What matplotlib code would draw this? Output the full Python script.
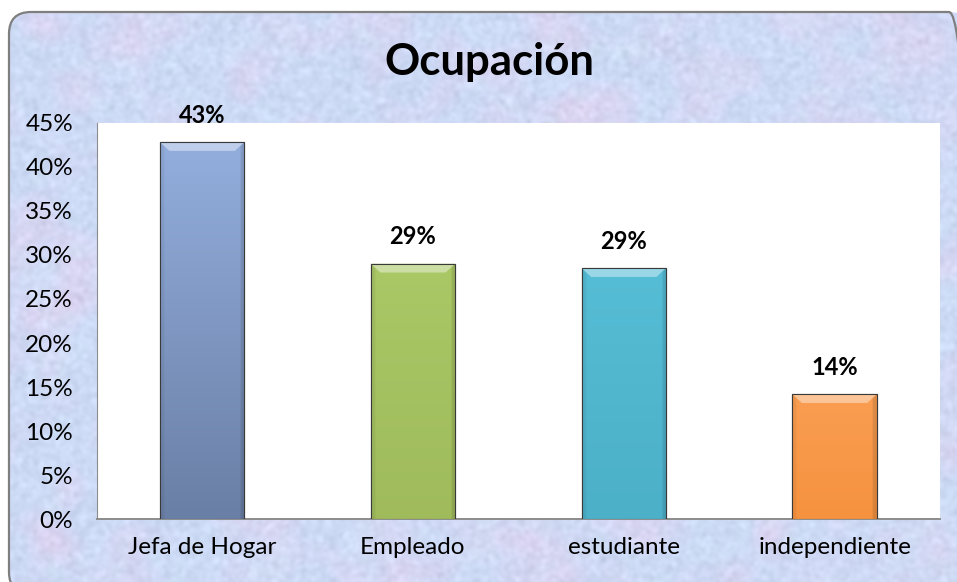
import numpy as np
import matplotlib
matplotlib.use("Agg")
import matplotlib.pyplot as plt
from matplotlib.patches import FancyBboxPatch, Polygon
from matplotlib.colors import to_rgb
from matplotlib.ticker import FuncFormatter

# data (percent)
categories = ["Jefa de Hogar", "Empleado", "estudiante", "independiente"]
values = [42.8, 29.0, 28.5, 14.2]
labels = ["43%", "29%", "29%", "14%"]

# bar colours (top, bottom)
top_colors = ["#93aedd", "#aac866", "#55bdd5", "#fa9e52"]
bottom_colors = ["#6a7fa5", "#9fbb5c", "#4bb0c8", "#f5923f"]

plt.rcParams['font.family'] = ['Lato', 'DejaVu Sans']

W, H = 957, 582
fig = plt.figure(figsize=(W / 100, H / 100), dpi=100)
fig.patch.set_facecolor("white")


def blur(a, s):
    ky = np.fft.fftfreq(a.shape[0])
    kx = np.fft.fftfreq(a.shape[1])
    g = np.exp(-2 * (np.pi * s) ** 2 * (ky[:, None] ** 2 + kx[None, :] ** 2))
    return np.real(np.fft.ifft2(np.fft.fft2(a) * g))


def norm(a):
    return (a - a.min()) / (a.max() - a.min())


# pastel mottled background (decoration only)
rng = np.random.default_rng(3)
th, tw = 582, 957
f1 = norm(blur(rng.normal(size=(th, tw)), 14))
f2 = norm(blur(rng.normal(size=(th, tw)), 6))
f3 = blur(rng.normal(size=(th, tw)), 2.0)
f3 = f3 / f3.std()
blue = np.array(to_rgb("#cbdbf6"))
pink = np.array(to_rgb("#dfd3f0"))
cyan = np.array(to_rgb("#cfe8f7"))
lav = np.array(to_rgb("#d5d3f2"))
w1 = np.clip((f1 - 0.5) * 2.0, 0, 1)[..., None]
w2 = np.clip((f2 - 0.5) * 2.0, 0, 1)[..., None]
tex = blue * (1 - w1) + pink * w1
tex = tex * (1 - 0.6 * w2) + cyan * 0.6 * w2
tex = tex * 0.85 + lav * 0.15
tex = np.clip(tex + f3[..., None] * 0.014, 0, 1)

bg = fig.add_axes([0, 0, 1, 1], zorder=0)
bg.set_xlim(0, W)
bg.set_ylim(0, H)
bg.axis("off")
frame = FancyBboxPatch((9, -12), 962, H - 12 + 12, boxstyle="round,pad=0,rounding_size=22",
                       facecolor="none", edgecolor="#7f7f7f", linewidth=1.6, zorder=2)
bg.add_patch(frame)
im = bg.imshow(tex, extent=(0, W, 0, H), origin="upper", interpolation="bilinear",
               aspect="auto", zorder=1)
im.set_clip_path(frame)

fig.text(489 / W, 1 - 62 / H, "Ocupación", ha="center", va="center",
         fontsize=31.5, fontweight="bold", color="black")

# plot area
ax = fig.add_axes([96.7 / W, 1 - 519.3 / H, (940 - 96.7) / W, (519.3 - 122.7) / H], zorder=1)
ax.set_facecolor("white")
x = np.arange(len(categories))
bars = ax.bar(x, values, width=0.40, color=top_colors, edgecolor="#3a3a3a",
              linewidth=0.8, zorder=3)

ax.set_xlim(-0.5, len(categories) - 0.5)
ax.set_ylim(0, 45)
ax.set_yticks(np.arange(0, 46, 5))
ax.yaxis.set_major_formatter(FuncFormatter(lambda v, p: f"{v:.0f}%"))
ax.set_xticks(x)
ax.set_xticklabels(categories)
ax.tick_params(axis="y", length=0, pad=17, labelsize=17.5)
ax.tick_params(axis="x", length=0, pad=13, labelsize=17.5)
for s in ["top", "right"]:
    ax.spines[s].set_visible(False)
ax.spines["left"].set_color("#8c8c8c")
ax.spines["bottom"].set_color("#8c8c8c")
ax.spines["bottom"].set_linewidth(1.4)

# gradient fill + bevel on each bar
for b, c_top, c_bot, lab in zip(bars, top_colors, bottom_colors, labels):
    x0, w, h = b.get_x(), b.get_width(), b.get_height()
    ct, cb = np.array(to_rgb(c_top)), np.array(to_rgb(c_bot))
    t = np.linspace(0, 1, 100)[:, None, None]
    grad = ct * (1 - t) + cb * t
    grad = np.repeat(grad, 40, axis=1)
    edge = np.ones(40)
    edge[:2] = 0.94
    edge[-2:] = 0.88
    grad = grad * edge[None, :, None]
    gi = ax.imshow(grad, extent=(x0, x0 + w, 0, h), origin="upper", aspect="auto",
                   interpolation="bilinear", zorder=3.5)
    gi.set_clip_path(b)
    bx, by = 0.045, 1.0
    lite = np.clip(ct + (1 - ct) * 0.4, 0, 1)
    ax.add_patch(Polygon([(x0, h), (x0 + w, h), (x0 + w - bx, h - by), (x0 + bx, h - by)],
                         closed=True, facecolor=lite, edgecolor="none", zorder=3.6))
    ax.add_patch(plt.Rectangle((x0, 0), w, h, facecolor="none", edgecolor="#3a3a3a",
                               linewidth=0.8, zorder=3.7))
    ax.annotate(lab, (x0 + w / 2, h), xytext=(0, 14), textcoords="offset points",
                ha="center", va="baseline", fontsize=17, fontweight="bold",
                annotation_clip=False, zorder=5)

fig.savefig("out.png", dpi=100)
